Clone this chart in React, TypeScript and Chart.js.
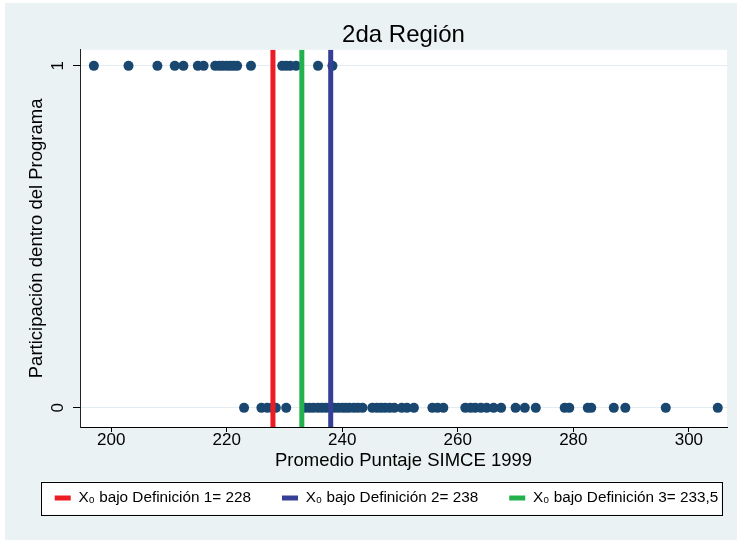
import React, { useEffect, useRef } from "react";
import { Chart, registerables } from "chart.js";

Chart.register(...registerables);

const titulo = "2da Región";
const tituloX = "Promedio Puntaje SIMCE 1999";
const tituloY = "Participación dentro del Programa";

// Participación = 1
const puntajeParticipantes = [
  197, 203, 208, 211, 212.5, 215, 216, 218, 218.7, 219.3, 220, 220.6, 221.2,
  221.8, 224.2, 229.6, 230.3, 231, 232, 235.8, 238.3,
];
// Participación = 0
const puntajeNoParticipantes = [
  223, 226, 227, 227.8, 228.5, 230.3, 233.6, 234.3, 235, 235.8, 236.5, 237.2,
  238, 238.6, 239.3, 240, 240.6, 241.2, 242, 242.7, 243.5, 245.2, 246, 246.7,
  247.4, 248.2, 249, 250.3, 251.2, 252.4, 255.6, 256.5, 257.5, 261.3, 262.2,
  263, 264, 265, 266.2, 267.5, 270, 271.6, 273.5, 278.5, 279.3, 282.5, 283.1,
  287, 289, 296, 305,
];

const cortesValor = [228, 238, 233];
const cortesEtiqueta = [
  "X₀ bajo Definición 1= 228",
  "X₀ bajo Definición 2= 238",
  "X₀ bajo Definición 3= 233,5",
];
const cortesColor = ["#EC1C24", "#353F97", "#22B14C"];

const xTicks = [200, 220, 240, 260, 280, 300];
const yTicks = [0, 1];
const xRango = [194.6, 306.6];
const yRango = [-0.056, 1.047];

const FONT = "'Liberation Sans', Arial, Helvetica, sans-serif";
const BG = "#EAF2F3";
const DOT = "#1A476F";
const LEGEND_DX = 23;
const LEGEND_DY = 12.6;

const fondoPlugin = {
  id: "fondo",
  afterLayout(chart: any) {
    const lg = chart.legend;
    if (!lg) return;
    lg.left += LEGEND_DX;
    lg.right += LEGEND_DX;
    lg.top -= LEGEND_DY;
    lg.bottom -= LEGEND_DY;
  },
  beforeDraw(chart: any) {
    const { ctx, chartArea, width, height } = chart;
    ctx.save();
    ctx.fillStyle = "#FFFFFF";
    ctx.fillRect(0, 0, width, height);
    ctx.fillStyle = BG;
    ctx.fillRect(5, 3, width - 5, height - 3);
    ctx.fillStyle = "#FFFFFF";
    ctx.fillRect(chartArea.left, chartArea.top, chartArea.right - chartArea.left, chartArea.bottom - chartArea.top);
    const lg = chart.legend;
    if (lg && lg.legendHitBoxes && lg.legendHitBoxes.length) {
      const hb = lg.legendHitBoxes;
      const first = hb[0];
      const last = hb[hb.length - 1];
      const left = first.left - 14;
      const right = last.left + last.width + 3;
      const top = first.top + first.height / 2 - 16.5;
      const bottom = first.top + first.height / 2 + 16.5;
      ctx.fillStyle = "#FFFFFF";
      ctx.fillRect(left, top, right - left, bottom - top);
      ctx.strokeStyle = "#000000";
      ctx.lineWidth = 1;
      ctx.strokeRect(Math.round(left) + 0.5, Math.round(top) + 0.5, Math.round(right - left), Math.round(bottom - top));
    }
    ctx.restore();
  },
};

export default function App() {
  const ref = useRef<HTMLCanvasElement | null>(null);

  useEffect(() => {
    document.body.style.margin = "0";
    const canvas = ref.current;
    if (!canvas) return;

    const lineas = cortesValor.map((v, i) => ({
      type: "line" as const,
      label: cortesEtiqueta[i],
      data: [
        { x: v, y: yRango[0] },
        { x: v, y: yRango[1] },
      ],
      borderColor: cortesColor[i],
      backgroundColor: cortesColor[i],
      borderWidth: 5,
      borderCapStyle: "butt" as const,
      pointRadius: 0,
      pointHoverRadius: 0,
      fill: false,
      esCorte: true,
    }));

    const chart = new Chart(canvas, {
      type: "scatter",
      data: {
        datasets: [
          ...lineas,
          {
            type: "scatter" as const,
            label: "Participación = 1",
            data: puntajeParticipantes.map((x) => ({ x, y: 1 })),
            backgroundColor: DOT,
            borderColor: DOT,
            borderWidth: 0,
            pointRadius: 5,
          },
          {
            type: "scatter" as const,
            label: "Participación = 0",
            data: puntajeNoParticipantes.map((x) => ({ x, y: 0 })),
            backgroundColor: DOT,
            borderColor: DOT,
            borderWidth: 0,
            pointRadius: 5,
          },
        ] as any,
      },
      options: {
        animation: false,
        responsive: false,
        maintainAspectRatio: false,
        layout: { padding: { left: 0, right: 10, top: 0, bottom: 11.7 } },
        plugins: {
          title: {
            display: true,
            text: titulo,
            fullSize: false,
            color: "#000",
            font: { family: FONT, size: 24, weight: "normal" },
            padding: { top: 21, bottom: 0 },
          },
          tooltip: { enabled: false },
          legend: {
            display: true,
            position: "bottom",
            labels: {
              color: "#000",
              font: { family: FONT, size: 15.3 },
              boxWidth: 16,
              boxHeight: 5,
              padding: 31,
              generateLabels: (ch: any) =>
                ch.data.datasets
                  .map((ds: any, i: number) => ({
                    text: ds.label,
                    fillStyle: ds.borderColor,
                    strokeStyle: ds.borderColor,
                    lineWidth: 0,
                    hidden: false,
                    datasetIndex: i,
                    fontColor: "#000",
                    esCorte: ds.esCorte,
                  }))
                  .filter((it: any) => it.esCorte),
            },
          },
        },
        scales: {
          x: {
            type: "linear",
            min: xRango[0],
            max: xRango[1],
            afterBuildTicks: (s: any) => {
              s.ticks = xTicks.map((v) => ({ value: v }));
            },
            afterFit: (s: any) => {
              s.height = 45;
            },
            border: { display: true, color: "#000", width: 1 },
            grid: {
              display: true,
              drawOnChartArea: false,
              drawTicks: true,
              tickLength: 5,
              tickColor: "#000",
            },
            ticks: {
              color: "#000",
              font: { family: FONT, size: 17 },
              padding: -2,
              maxRotation: 0,
              minRotation: 0,
            },
            title: {
              display: true,
              text: tituloX,
              color: "#000",
              font: { family: FONT, size: 18.5 },
              padding: { top: 0, bottom: 0 },
            },
          },
          y: {
            type: "linear",
            min: yRango[0],
            max: yRango[1],
            afterBuildTicks: (s: any) => {
              s.ticks = yTicks.map((v) => ({ value: v }));
            },
            afterFit: (s: any) => {
              s.width = 80;
            },
            border: { display: true, color: "#222", width: 1 },
            grid: {
              display: true,
              drawOnChartArea: true,
              color: "#E3EDF1",
              drawTicks: true,
              tickLength: 7,
              tickColor: "#000",
            },
            ticks: {
              color: "#000",
              font: { family: FONT, size: 17 },
              minRotation: 90,
              maxRotation: 90,
              crossAlign: "center",
              padding: 10,
            },
            title: {
              display: true,
              text: tituloY,
              color: "#000",
              font: { family: FONT, size: 18.5 },
              padding: { top: 26, bottom: 0 },
            },
          },
        },
      } as any,
      plugins: [fondoPlugin],
    });

    return () => chart.destroy();
  }, []);

  return (
    <div style={{ width: 737, height: 540, background: BG }}>
      <canvas ref={ref} width={737} height={540} style={{ display: "block" }} />
    </div>
  );
}
